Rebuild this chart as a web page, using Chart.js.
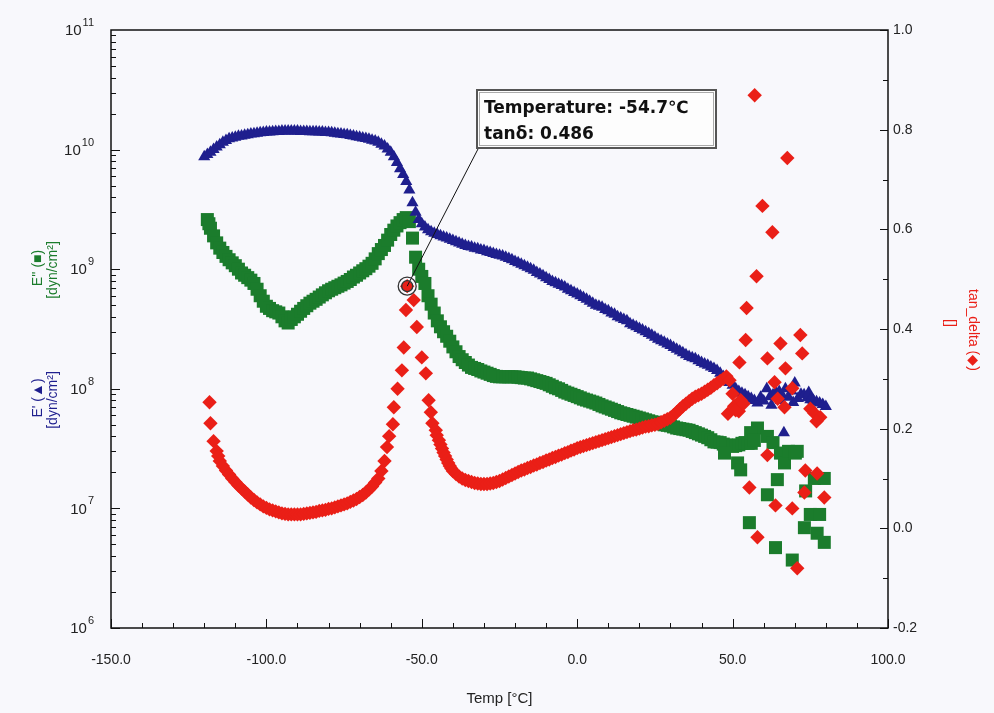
<!DOCTYPE html>
<html>
<head>
<meta charset="utf-8">
<title>DMA temperature sweep</title>
<script src="https://cdn.jsdelivr.net/npm/chart.js@4.4.1/dist/chart.umd.min.js"></script>
<style>
  html, body { margin: 0; padding: 0; background: #f8f8fc; }
  #wrap { width: 994px; height: 713px; }
</style>
</head>
<body>
<div id="wrap"><canvas id="dma" width="994" height="713"></canvas></div>
<script>
// E' (storage modulus), dyn/cm2
const storageTemp = [
  -120, -119, -118, -117, -116, -115, -114, -113, -112, -111,
  -110, -109, -108, -107, -106, -105, -104, -103, -102, -101,
  -100, -99, -98, -97, -96, -95, -94, -93, -92, -91,
  -90, -89, -88, -87, -86, -85, -84, -83, -82, -81,
  -80, -79, -78, -77, -76, -75, -74, -73, -72, -71,
  -70, -69, -68, -67, -66, -65, -64, -63, -62, -61,
  -60, -59, -58, -57, -56, -55, -54, -53, -52, -51,
  -50, -49, -48, -47, -46, -45, -44, -43, -42, -41,
  -40, -39, -38, -37, -36, -35, -34, -33, -32, -31,
  -30, -29, -28, -27, -26, -25, -24, -23, -22, -21,
  -20, -19, -18, -17, -16, -15, -14, -13, -12, -11,
  -10, -9, -8, -7, -6, -5, -4, -3, -2, -1,
  0, 1, 2, 3, 4, 5, 6, 7, 8, 9,
  10, 11, 12, 13, 14, 15, 16, 17, 18, 19,
  20, 21, 22, 23, 24, 25, 26, 27, 28, 29,
  30, 31, 32, 33, 34, 35, 36, 37, 38, 39,
  40, 41, 42, 43, 44, 45, 46, 47, 48, 49,
  50, 51, 52, 53, 54, 55, 56, 57, 58,
  59, 60, 61, 62, 62.5, 63, 64, 65, 65.5, 66, 66.5, 67, 68, 69,
  69.5, 70, 71, 72, 73, 74, 74.5, 75, 76, 77, 78, 79, 80
];
const storageModulus = [
  8.7e9, 9.1e9, 9.5e9, 1.0e10, 1.05e10, 1.10e10, 1.15e10, 1.19e10, 1.23e10, 1.25e10,
  1.27e10, 1.29e10, 1.30e10, 1.32e10, 1.33e10, 1.35e10, 1.36e10, 1.37e10, 1.38e10, 1.39e10,
  1.40e10, 1.40e10, 1.41e10, 1.42e10, 1.42e10, 1.43e10, 1.43e10, 1.43e10, 1.43e10, 1.43e10,
  1.43e10, 1.42e10, 1.42e10, 1.42e10, 1.41e10, 1.41e10, 1.41e10, 1.40e10, 1.40e10, 1.39e10,
  1.39e10, 1.38e10, 1.37e10, 1.36e10, 1.35e10, 1.34e10, 1.33e10, 1.31e10, 1.30e10, 1.28e10,
  1.27e10, 1.25e10, 1.24e10, 1.22e10, 1.20e10, 1.18e10, 1.15e10, 1.11e10, 1.07e10, 1.01e10,
  9.5e9, 8.7e9, 7.8e9, 6.9e9, 6.2e9, 5.4e9, 4.6e9, 3.6e9, 3.0e9, 2.6e9,
  2.4e9, 2.25e9, 2.14e9, 2.06e9, 2.0e9, 1.95e9, 1.9e9, 1.86e9, 1.82e9, 1.78e9,
  1.74e9, 1.70e9, 1.66e9, 1.62e9, 1.58e9, 1.55e9, 1.53e9, 1.50e9, 1.48e9, 1.45e9,
  1.43e9, 1.40e9, 1.38e9, 1.35e9, 1.33e9, 1.31e9, 1.29e9, 1.26e9, 1.23e9, 1.20e9,
  1.16e9, 1.13e9, 1.10e9, 1.07e9, 1.04e9, 1.01e9, 9.8e8, 9.4e8, 9.1e8, 8.8e8,
  8.5e8, 8.2e8, 7.9e8, 7.7e8, 7.5e8, 7.3e8, 7.1e8, 6.8e8, 6.6e8, 6.4e8,
  6.2e8, 6.0e8, 5.8e8, 5.6e8, 5.4e8, 5.2e8, 5.0e8, 4.9e8, 4.8e8, 4.6e8,
  4.5e8, 4.3e8, 4.2e8, 4.0e8, 3.9e8, 3.8e8, 3.7e8, 3.5e8, 3.4e8, 3.3e8,
  3.2e8, 3.1e8, 3.0e8, 2.9e8, 2.8e8, 2.7e8, 2.6e8, 2.52e8, 2.45e8, 2.37e8,
  2.3e8, 2.22e8, 2.14e8, 2.07e8, 2.0e8, 1.93e8, 1.86e8, 1.82e8, 1.78e8, 1.72e8,
  1.66e8, 1.61e8, 1.57e8, 1.52e8, 1.48e8, 1.42e8, 1.35e8, 1.27e8, 1.20e8, 1.13e8,
  1.07e8, 1.0e8, 9.5e7, 9.2e7, 8.9e7, 8.6e7, 8.3e7, 8.0e7, 7.6e7,
  8.5e7, 7.9e7, 1.0e8, 8.6e7, 7.3e7, 8.9e7, 9.3e7, 9.5e7, 8.0e7, 8.8e7, 4.3e7, 1.0e8, 8.5e7, 9.6e7,
  7.7e7, 1.12e8, 8.3e7, 9.0e7, 8.9e7, 8.4e7, 9.3e7, 8.1e7, 8.0e7, 7.8e7, 7.6e7, 7.4e7, 7.1e7
];

// E'' (loss modulus), dyn/cm2
const lossTemp = [
  -119, -118.5, -118, -117, -116, -115, -114, -113, -112, -111,
  -110, -109, -108, -107, -106, -105, -104, -103, -102, -101,
  -100, -99, -98, -97, -96, -95, -94, -93, -92, -91,
  -90, -89, -88, -87, -86, -85, -84, -83, -82, -81,
  -80, -79, -78, -77, -76, -75, -74, -73, -72, -71,
  -70, -69, -68, -67, -66, -65, -64, -63, -62, -61,
  -60, -59, -58, -57, -56, -55, -54, -53, -52, -51,
  -50, -49, -48, -47, -46, -45, -44, -43, -42, -41,
  -40, -39, -38, -37, -36, -35, -34, -33, -32, -31,
  -30, -29, -28, -27, -26, -25, -24, -23, -22, -21,
  -20, -19, -18, -17, -16, -15, -14, -13, -12, -11,
  -10, -9, -8, -7, -6, -5, -4, -3, -2, -1,
  0, 1, 2, 3, 4, 5, 6, 7, 8, 9,
  10, 11, 12, 13, 14, 15, 16, 17, 18, 19,
  20, 21, 22, 23, 24, 25, 26, 27, 28, 29,
  30, 31, 32, 33, 34, 35, 36, 37, 38, 39,
  40, 41, 42, 43, 44, 45, 46, 47, 48, 49,
  50, 51, 52, 53, 54, 55, 56,
  58, 47.4, 51.6, 52.6, 55.8, 57, 61.2, 63, 65.4, 66.7, 68, 70.2, 70.8,
  64.4, 61.2, 55.4, 63.8, 69.2, 73.1, 75, 77.2, 79.5, 76.3, 79.5, 73.5, 78
];
const lossModulus = [
  2.6e9, 2.4e9, 2.2e9, 1.9e9, 1.66e9, 1.5e9, 1.38e9, 1.28e9, 1.2e9, 1.13e9,
  1.07e9, 1.0e9, 9.3e8, 8.9e8, 8.5e8, 8.1e8, 7.6e8, 6.8e8, 6.0e8, 5.4e8,
  4.9e8, 4.7e8, 4.5e8, 4.4e8, 4.3e8, 4.0e8, 3.7e8, 3.55e8, 3.8e8, 4.0e8,
  4.2e8, 4.45e8, 4.7e8, 4.95e8, 5.2e8, 5.4e8, 5.6e8, 5.85e8, 6.1e8, 6.35e8,
  6.6e8, 6.8e8, 7.0e8, 7.2e8, 7.4e8, 7.65e8, 7.9e8, 8.2e8, 8.6e8, 8.9e8,
  9.3e8, 9.7e8, 1.01e9, 1.06e9, 1.12e9, 1.22e9, 1.35e9, 1.46e9, 1.58e9, 1.75e9,
  1.95e9, 2.12e9, 2.3e9, 2.45e9, 2.6e9, 2.7e9, 2.5e9, 1.82e9, 1.26e9, 1.0e9,
  8.7e8, 7.6e8, 6.0e8, 5.1e8, 4.3e8, 3.7e8, 3.3e8, 3.0e8, 2.75e8, 2.5e8,
  2.24e8, 2.04e8, 1.86e8, 1.75e8, 1.66e8, 1.58e8, 1.51e8, 1.48e8, 1.45e8, 1.41e8,
  1.38e8, 1.35e8, 1.32e8, 1.29e8, 1.27e8, 1.26e8, 1.26e8, 1.26e8, 1.26e8, 1.26e8,
  1.26e8, 1.25e8, 1.24e8, 1.23e8, 1.23e8, 1.21e8, 1.19e8, 1.17e8, 1.15e8, 1.13e8,
  1.11e8, 1.08e8, 1.05e8, 1.02e8, 1.0e8, 9.7e7, 9.4e7, 9.2e7, 9.0e7, 8.8e7,
  8.6e7, 8.4e7, 8.2e7, 8.05e7, 7.9e7, 7.75e7, 7.6e7, 7.4e7, 7.2e7, 7.05e7,
  6.9e7, 6.75e7, 6.6e7, 6.45e7, 6.3e7, 6.2e7, 6.1e7, 6.0e7, 5.9e7, 5.8e7,
  5.7e7, 5.6e7, 5.5e7, 5.4e7, 5.3e7, 5.25e7, 5.2e7, 5.1e7, 5.0e7, 4.95e7,
  4.9e7, 4.8e7, 4.7e7, 4.65e7, 4.6e7, 4.55e7, 4.5e7, 4.4e7, 4.3e7, 4.2e7,
  4.1e7, 4.0e7, 3.9e7, 3.75e7, 3.6e7, 3.58e7, 3.55e7, 3.45e7, 3.4e7, 3.35e7,
  3.3e7, 3.35e7, 3.4e7, 3.5e7, 3.55e7, 3.5e7, 3.5e7,
  4.7e7, 2.9e7, 2.4e7, 2.1e7, 4.3e7, 3.7e7, 4.0e7, 3.55e7, 2.9e7, 2.4e7, 3.0e7, 2.9e7, 3.0e7,
  1.74e7, 1.3e7, 7.6e6, 4.7e6, 3.7e6, 6.9e6, 8.9e6, 6.2e6, 5.2e6, 1.78e7, 1.78e7, 1.4e7, 8.9e6
];

// tan delta
const tanTemp = [
  -118.3, -118, -117, -116, -115.5, -115, -114, -113, -112, -111,
  -110, -109, -108, -107, -106, -105, -104, -103, -102, -101,
  -100, -99, -98, -97, -96, -95, -94, -93, -92, -91,
  -90, -89, -88, -87, -86, -85, -84, -83, -82, -81,
  -80, -79, -78, -77, -76, -75, -74, -73, -72, -71,
  -70, -69, -68, -67, -66, -65, -64, -63,
  -62, -61.2, -60.5, -59.3, -59, -57.8, -56.4, -55.8, -55.1, -54.7,
  -52.6, -51.6, -50, -48.7, -47.8, -47.1, -46.6, -45.5, -45.2, -44.5,
  -44, -43.5, -43, -42.5, -42, -41.5, -41, -40.5, -40, -39,
  -38, -37, -36, -35, -34, -33, -32, -31, -30, -29,
  -28, -27, -26, -25, -24, -23, -22, -21, -20, -19,
  -18, -17, -16, -15, -14, -13, -12, -11, -10, -9,
  -8, -7, -6, -5, -4, -3, -2, -1, 0, 1,
  2, 3, 4, 5, 6, 7, 8, 9, 10, 11,
  12, 13, 14, 15, 16, 17, 18, 19, 20, 21,
  22, 23, 24, 25, 26, 27, 28, 29, 30, 31,
  32, 33, 34, 35, 36, 37, 38, 39, 40, 41,
  42, 43, 44, 45, 46, 47, 48, 49,
  48.5, 50.5, 52, 57.1, 67.6, 59.6, 62.8, 57.7, 54.5, 54.2, 65.4, 71.8,
  61.2, 72.4, 52.2, 67, 63.5, 69.2, 51, 52.6, 50, 53.5,
  66.7, 64.5, 76.3, 78.2, 75, 77,
  61.2, 73.4, 77.2, 73.1, 79.5, 55.4, 63.8, 69.2, 58, 70.8
];
const tanDelta = [
  0.253, 0.211, 0.175, 0.155, 0.145, 0.135, 0.125, 0.116, 0.108, 0.100,
  0.093, 0.086, 0.080, 0.074, 0.068, 0.062, 0.057, 0.052, 0.048, 0.044,
  0.041, 0.038, 0.036, 0.034, 0.032, 0.030, 0.029, 0.028, 0.028, 0.028,
  0.028, 0.028, 0.029, 0.030, 0.031, 0.032, 0.033, 0.035, 0.036, 0.037,
  0.039, 0.040, 0.042, 0.044, 0.046, 0.048, 0.050, 0.053, 0.056, 0.059,
  0.063, 0.067, 0.072, 0.078, 0.084, 0.092, 0.100, 0.115,
  0.135, 0.163, 0.185, 0.209, 0.243, 0.280, 0.317, 0.363, 0.438, 0.486,
  0.458, 0.404, 0.343, 0.311, 0.257, 0.233, 0.211, 0.197, 0.187, 0.177,
  0.168, 0.160, 0.152, 0.145, 0.138, 0.131, 0.125, 0.120, 0.115, 0.109,
  0.104, 0.100, 0.097, 0.095, 0.093, 0.091, 0.090, 0.089, 0.089, 0.089,
  0.090, 0.091, 0.093, 0.095, 0.098, 0.101, 0.104, 0.107, 0.110, 0.113,
  0.116, 0.118, 0.121, 0.123, 0.126, 0.128, 0.131, 0.133, 0.136, 0.138,
  0.141, 0.143, 0.146, 0.148, 0.151, 0.153, 0.156, 0.158, 0.161, 0.163,
  0.165, 0.167, 0.169, 0.171, 0.173, 0.175, 0.177, 0.179, 0.181, 0.183,
  0.185, 0.187, 0.189, 0.191, 0.193, 0.195, 0.197, 0.198, 0.200, 0.202,
  0.204, 0.205, 0.207, 0.208, 0.210, 0.213, 0.216, 0.219, 0.222, 0.227,
  0.233, 0.239, 0.245, 0.250, 0.255, 0.260, 0.264, 0.267, 0.270, 0.274,
  0.278, 0.282, 0.287, 0.291, 0.296, 0.300, 0.305, 0.297,
  0.230, 0.245, 0.235, 0.869, 0.743, 0.647, 0.594, 0.506, 0.442, 0.378, 0.371, 0.388,
  0.341, 0.351, 0.333, 0.321, 0.293, 0.281, 0.237, 0.257, 0.270, 0.250,
  0.243, 0.260, 0.231, 0.223, 0.240, 0.215,
  0.147, 0.116, 0.110, 0.072, 0.062, 0.082, 0.046, 0.040, -0.018, -0.080
];

// cursor readout on the tan delta peak
const cursorIndex = tanTemp.indexOf(-54.7);

const BLUE = '#1f1f8e';
const GREEN = '#1b7c2c';
const RED = '#ea1f17';
const INK = '#222';
const FONT = '"Liberation Sans", Arial, sans-serif';

const toPoints = (xs, ys) => xs.map((x, i) => ({ x, y: ys[i] }));

// frame, inward tick marks, log tick labels and axis titles
const axisFrame = {
  id: 'axisFrame',
  afterDatasetsDraw(chart) {
    const { ctx, chartArea: a, scales } = chart;
    ctx.save();
    ctx.strokeStyle = '#111';
    ctx.lineWidth = 1.5;
    ctx.strokeRect(a.left, a.top, a.right - a.left, a.bottom - a.top);

    ctx.lineWidth = 1;
    ctx.beginPath();
    for (let v = -150; v <= 100; v += 10) {
      const x = Math.round(scales.x.getPixelForValue(v)) + 0.5;
      const len = v % 50 === 0 ? 9 : 5;
      ctx.moveTo(x, a.bottom);
      ctx.lineTo(x, a.bottom - len);
    }
    for (let e = 6; e <= 10; e++) {
      for (let m = 1; m <= 9; m++) {
        const y = Math.round(scales.y.getPixelForValue(m * Math.pow(10, e))) + 0.5;
        const len = m === 1 ? 9 : 5;
        ctx.moveTo(a.left, y);
        ctx.lineTo(a.left + len, y);
      }
    }
    for (let k = -2; k <= 10; k++) {
      const y = Math.round(scales.yTan.getPixelForValue(k / 10)) + 0.5;
      const len = k % 2 === 0 ? 8 : 5;
      ctx.moveTo(a.right, y);
      ctx.lineTo(a.right - len, y);
    }
    ctx.stroke();
    ctx.restore();
  },
  afterDraw(chart) {
    const { ctx, chartArea: a, scales } = chart;
    ctx.save();
    ctx.fillStyle = INK;
    ctx.textBaseline = 'middle';
    // 10^n labels on the modulus axis
    for (let e = 6; e <= 11; e++) {
      const y = scales.y.getPixelForValue(Math.pow(10, e));
      ctx.font = '11px ' + FONT;
      ctx.textAlign = 'right';
      const exp = String(e);
      const expW = ctx.measureText(exp).width;
      ctx.fillText(exp, a.left - 17, y - 7);
      ctx.font = '15px ' + FONT;
      ctx.fillText('10', a.left - 18 - expW, y + 1);
    }

    ctx.textAlign = 'center';
    ctx.font = '15px ' + FONT;
    ctx.fillText('Temp [°C]', (a.left + a.right) / 2, 699);

    const vtext = (text, x, y, angle, color) => {
      ctx.save();
      ctx.translate(x, y);
      ctx.rotate(angle);
      ctx.fillStyle = color;
      ctx.fillText(text, 0, 0);
      ctx.restore();
    };
    ctx.font = '14px ' + FONT;
    vtext("E'' (\u25A0)", 38, 268, -Math.PI / 2, GREEN);
    vtext('[dyn/cm\u00B2]', 53, 270, -Math.PI / 2, GREEN);
    vtext("E' (\u25B2)", 38, 398, -Math.PI / 2, BLUE);
    vtext('[dyn/cm\u00B2]', 53, 400, -Math.PI / 2, BLUE);
    vtext('tan_delta (\u25C6)', 973, 330, Math.PI / 2, RED);
    vtext('[]', 950, 323, Math.PI / 2, RED);
    ctx.restore();
  }
};

// cursor box pointing at the selected tan delta point
const cursorLabel = {
  id: 'cursorLabel',
  afterDraw(chart) {
    const { ctx, scales } = chart;
    const t = tanTemp[cursorIndex];
    const d = tanDelta[cursorIndex];
    const px = scales.x.getPixelForValue(t);
    const py = scales.yTan.getPixelForValue(d);
    const bx = 476, by = 89, bw = 241, bh = 60;

    ctx.save();
    ctx.strokeStyle = '#111';
    ctx.lineWidth = 1;
    ctx.beginPath();
    ctx.moveTo(px, py);
    ctx.lineTo(bx + 2, by + bh);
    ctx.stroke();

    ctx.strokeStyle = '#333';
    ctx.lineWidth = 1.3;
    ctx.beginPath();
    ctx.arc(px, py, 9, 0, Math.PI * 2);
    ctx.stroke();
    ctx.beginPath();
    ctx.arc(px, py, 5.5, 0, Math.PI * 2);
    ctx.stroke();

    ctx.fillStyle = '#fdfdfd';
    ctx.fillRect(bx, by, bw, bh);
    ctx.strokeStyle = '#555';
    ctx.lineWidth = 2;
    ctx.strokeRect(bx + 1, by + 1, bw - 2, bh - 2);
    ctx.strokeStyle = '#aaa';
    ctx.lineWidth = 1;
    ctx.strokeRect(bx + 3.5, by + 3.5, bw - 7, bh - 7);

    ctx.fillStyle = '#111';
    ctx.font = 'bold 17px "DejaVu Sans", Verdana, sans-serif';
    ctx.textBaseline = 'alphabetic';
    ctx.textAlign = 'left';
    ctx.fillText('Temperature: ' + t.toFixed(1) + '\u2103', bx + 8, by + 24);
    ctx.fillText('tan\u03B4: ' + d.toFixed(3), bx + 8, by + 50);
    ctx.restore();
  }
};

const tickFont = { family: FONT, size: 14 };
const oneDecimal = v => (Math.abs(v) < 1e-9 ? 0 : v).toFixed(1);

new Chart(document.getElementById('dma'), {
  type: 'scatter',
  data: {
    datasets: [
      {
        label: 'tan_delta',
        data: toPoints(tanTemp, tanDelta),
        yAxisID: 'yTan',
        pointStyle: 'rectRot',
        pointRadius: 7.2,
        backgroundColor: RED,
        borderColor: RED,
        borderWidth: 0,
        order: 1
      },
      {
        label: "E'",
        data: toPoints(storageTemp, storageModulus),
        yAxisID: 'y',
        pointStyle: 'triangle',
        pointRadius: 7,
        backgroundColor: BLUE,
        borderColor: BLUE,
        borderWidth: 0,
        order: 2
      },
      {
        label: "E''",
        data: toPoints(lossTemp, lossModulus),
        yAxisID: 'y',
        pointStyle: 'rect',
        pointRadius: 9.2,
        backgroundColor: GREEN,
        borderColor: GREEN,
        borderWidth: 0,
        order: 3
      }
    ]
  },
  options: {
    responsive: false,
    animation: false,
    events: [],
    layout: { padding: { top: 30, left: 0, right: 0, bottom: 0 } },
    plugins: { legend: { display: false }, tooltip: { enabled: false } },
    scales: {
      x: {
        type: 'linear',
        min: -150,
        max: 100,
        grid: { display: false, drawTicks: false },
        border: { display: false },
        ticks: {
          stepSize: 50,
          padding: 24,
          maxRotation: 0,
          color: INK,
          font: tickFont,
          callback: oneDecimal
        },
        afterFit: s => { s.height = 85; }
      },
      y: {
        type: 'logarithmic',
        position: 'left',
        min: 1e6,
        max: 1e11,
        grid: { display: false, drawTicks: false },
        border: { display: false },
        ticks: { display: false },
        afterFit: s => { s.width = 111; }
      },
      yTan: {
        type: 'linear',
        position: 'right',
        min: -0.2,
        max: 1.0,
        grid: { display: false, drawTicks: false },
        border: { display: false },
        ticks: {
          stepSize: 0.2,
          padding: 5,
          color: INK,
          font: tickFont,
          callback: oneDecimal
        },
        afterFit: s => { s.width = 106; }
      }
    }
  },
  plugins: [axisFrame, cursorLabel]
});
</script>
</body>
</html>
